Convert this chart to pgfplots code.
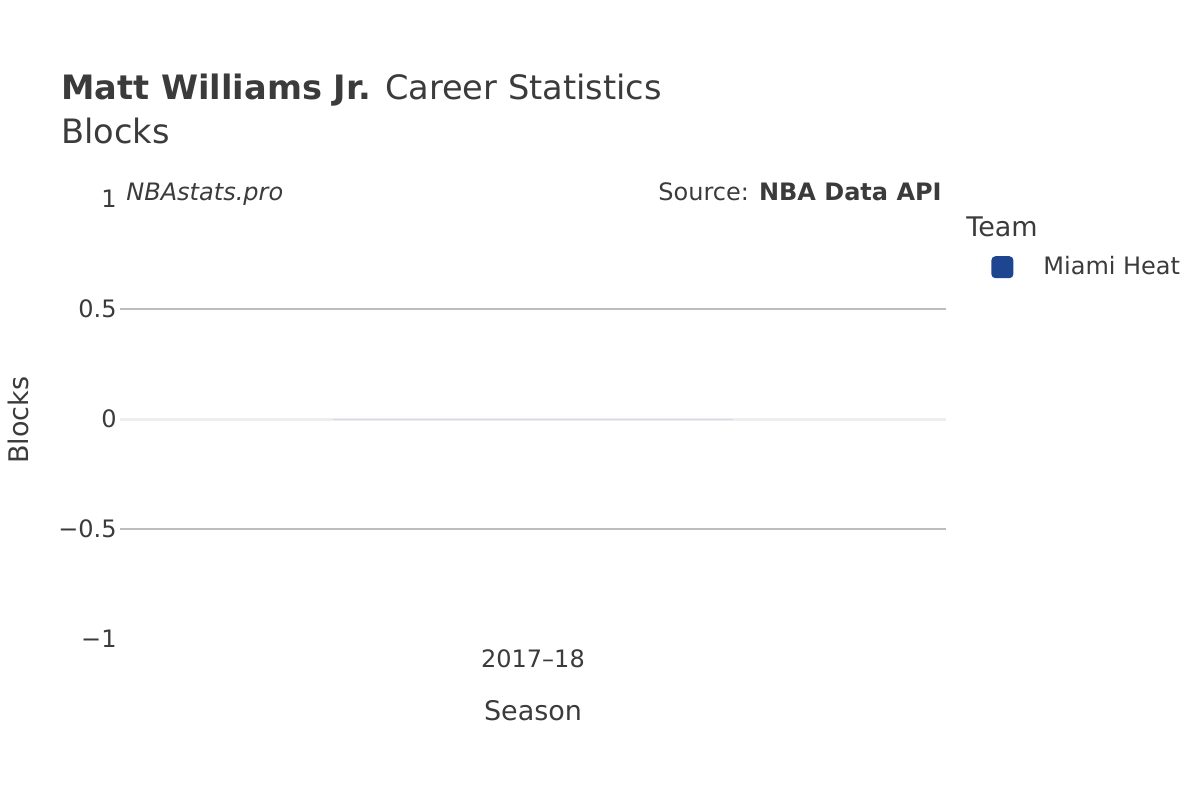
\documentclass[border=0pt]{standalone}
\usepackage{fontspec}
\setmainfont{DejaVu Sans}
\usepackage{pgfplots}
\pgfplotsset{compat=1.18}

\definecolor{txt}{HTML}{3B3B3B}
\definecolor{gridc}{HTML}{BDBDBD}
\definecolor{zeroc}{HTML}{EEEEEE}
\definecolor{heat}{HTML}{1E4690}

\begin{document}
\begin{tikzpicture}[x=0.5pt, y=-0.5pt, every node/.style={text=txt}]
\path (0,0) rectangle (1200,800);

\begin{axis}[
  at={(60pt,-319.5pt)}, anchor=south west,
  scale only axis, width=413pt, height=220pt,
  xmin=-0.5, xmax=0.5, ymin=-1, ymax=1,
  axis line style={draw=none},
  major tick length=0pt,
  xtick={0}, xticklabels={2017–18},
  xticklabel style={anchor=base, inner sep=0pt, yshift=-14pt, font=\fontsize{12pt}{14pt}\selectfont},
  ytick={-1,-0.5,0,0.5,1},
  yticklabels={−1,−0.5,0,0.5,1},
  yticklabel style={anchor=base east, inner sep=0pt, xshift=-1.5pt, yshift=-4.4pt, font=\fontsize{12pt}{14pt}\selectfont},
  extra y ticks={-0.5,0.5},
  extra y tick labels={},
  extra y tick style={grid=major, grid style={gridc, line width=1pt}},
  clip=false,
  legend style={draw=none, fill=none, at={(1.0545,0.845)}, anchor=west, inner sep=0pt,
    font=\fontsize{12pt}{14pt}\selectfont, text=txt,
    nodes={inner sep=0pt}, column sep=0pt},
  legend cell align=left,
  legend image code/.code={\fill[heat, draw=none, rounded corners=2pt] (0pt,-5.5pt) rectangle (11pt,5.5pt); \path[draw=none, fill=none] (11pt,0) -- (26pt,0);},
]
\addplot[zeroc, line width=1.5pt, forget plot] coordinates {(-0.5,0) (0.5,0)};
\addplot[ybar, bar width=200pt, fill=heat, draw=none] coordinates {(0,0)};
\addlegendentry{Miami Heat}
\end{axis}

\node[anchor=base west, inner sep=0pt, font=\fontsize{16.8pt}{20pt}\selectfont] at (61,99) {{\bfseries Matt Williams Jr.} Career Statistics};
\node[anchor=base west, inner sep=0pt, font=\fontsize{16.8pt}{20pt}\selectfont] at (61,143) {Blocks};
\node[anchor=base west, inner sep=0pt, font=\fontsize{12pt}{14pt}\selectfont\itshape] at (126,200) {NBAstats.pro};
\node[anchor=base east, inner sep=0pt, font=\fontsize{12pt}{14pt}\selectfont] at (942,200) {Source: \textbf{NBA Data API}};
\node[anchor=base, inner sep=0pt, font=\fontsize{13.5pt}{16pt}\selectfont] at (533,720) {Season};
\node[anchor=base, rotate=90, inner sep=0pt, font=\fontsize{13.5pt}{16pt}\selectfont] at (28,420) {Blocks};
\node[anchor=base west, inner sep=0pt, font=\fontsize{13.5pt}{16pt}\selectfont] at (966,236) {Team};
\end{tikzpicture}
\end{document}
